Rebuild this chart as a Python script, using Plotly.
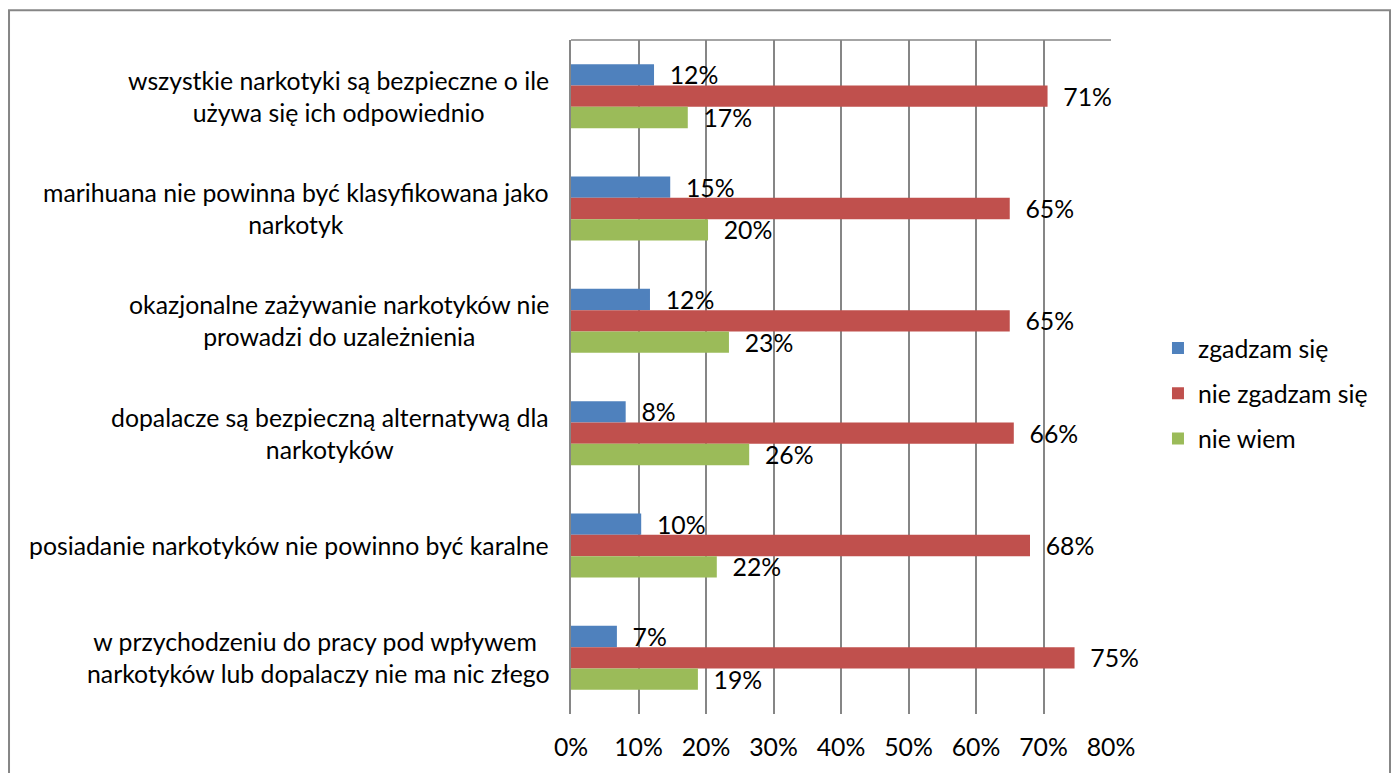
import plotly.graph_objects as go

categories = [
    "wszystkie narkotyki są bezpieczne o ile<br>używa się ich odpowiednio",
    "marihuana nie powinna być klasyfikowana jako<br>narkotyk",
    "okazjonalne zażywanie narkotyków nie<br>prowadzi do uzależnienia",
    "dopalacze są bezpieczną alternatywą dla<br>narkotyków",
    "posiadanie narkotyków nie powinno być karalne",
    "w przychodzeniu do pracy pod wpływem <br>narkotyków lub dopalaczy nie ma nic złego",
]
series_names = ["zgadzam się", "nie zgadzam się", "nie wiem"]
zgadzam = [0.123, 0.147, 0.117, 0.081, 0.104, 0.068]
nie_zgadzam = [0.706, 0.650, 0.650, 0.656, 0.680, 0.746]
nie_wiem = [0.173, 0.203, 0.234, 0.264, 0.216, 0.188]
x_ticks = [0, 0.1, 0.2, 0.3, 0.4, 0.5, 0.6, 0.7, 0.8]

colors = ["#4F81BD", "#C0504D", "#9BBB59"]
FONT = "Lato"
FS = 24.8
GRID = "#868686"

fig = go.Figure()
for name, vals, col in zip(series_names, [zgadzam, nie_zgadzam, nie_wiem], colors):
    fig.add_trace(go.Bar(
        y=categories, x=vals, name=name, orientation="h",
        marker=dict(color=col, line=dict(width=0)),
        texttemplate="\u00a0\u00a0%{x:.0%}", textposition="outside",
        textfont=dict(family=FONT, size=FS, color="#000"),
        constraintext="none", cliponaxis=False,
        legendgroup=name, hoverinfo="skip",
    ))

for c in categories:
    fig.add_annotation(x=0, y=c, xref="x", yref="y", text=c, showarrow=False,
                       xanchor="right", yanchor="middle", align="center", xshift=-20,
                       font=dict(family=FONT, size=FS, color="#000"))

shapes = [
    dict(type="line", xref="paper", yref="paper", x0=0, x1=1, y0=1, y1=1,
         line=dict(color=GRID, width=1.5)),
    dict(type="rect", xref="paper", yref="paper", x0=-1.0407, x1=1.5167, y0=-0.2, y1=1.0443,
         line=dict(color=GRID, width=2)),
]

fig.update_layout(
    width=1383, height=765,
    margin=dict(l=563, r=280, t=32, b=56),
    paper_bgcolor="white", plot_bgcolor="white",
    barmode="group", bargap=0.43, bargroupgap=0,
    font=dict(family=FONT, size=FS, color="#000"),
    showlegend=True,
    legend=dict(x=1.087, y=0.4756, xanchor="left", yanchor="middle",
                font=dict(family=FONT, size=FS, color="#000"),
                tracegroupgap=10, bgcolor="rgba(0,0,0,0)"),
    xaxis=dict(range=[0, 0.8], tickvals=x_ticks, tickformat=".0%",
               showgrid=True, gridcolor=GRID, gridwidth=1.5, zeroline=False,
               showline=False, ticks="", ticklabelstandoff=16,
               tickfont=dict(family=FONT, size=FS, color="#000")),
    yaxis=dict(autorange="reversed", showticklabels=False, showgrid=False,
               showline=True, linecolor=GRID, linewidth=1.5, ticks=""),
    shapes=shapes,
)

fig.write_html("out.html")
